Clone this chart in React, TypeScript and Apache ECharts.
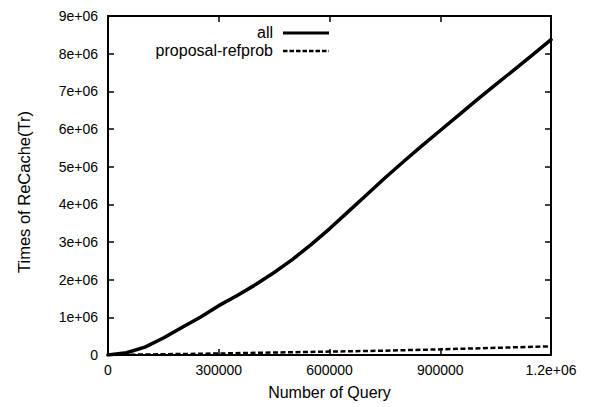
import React, { useEffect, useRef } from "react";
import * as echarts from "echarts";

const queryK = [0, 50, 100, 150, 200, 250, 300, 350, 400, 450, 500, 550, 600, 650, 700, 750, 800, 850, 900, 950, 1000, 1050, 1100, 1150, 1200];
const allM = [0, 0.06, 0.21, 0.45, 0.73, 1.0, 1.31, 1.58, 1.87, 2.19, 2.54, 2.93, 3.35, 3.8, 4.25, 4.7, 5.13, 5.55, 5.96, 6.37, 6.78, 7.18, 7.57, 7.97, 8.37];
const propK = [0, 150, 300, 450, 600, 750, 900, 1050, 1200];
const propM = [0, 0.02, 0.04, 0.065, 0.09, 0.115, 0.15, 0.19, 0.23];
const seriesNames = ["all", "proposal-refprob"];
const xTitle = "Number of Query";
const yTitle = "Times of ReCache(Tr)";

const FONT = "Liberation Sans, Arial, sans-serif";

const fmtY = (v: number) => (v === 0 ? "0" : `${v / 1e6}e+06`);
const fmtX = (v: number) => (v >= 1e6 ? `${v / 1e6}e+06` : `${v}`);

export default function App() {
  const ref = useRef<HTMLDivElement>(null);
  useEffect(() => {
    const chart = echarts.init(ref.current!, null, { renderer: "svg" });
    const axisCommon = {
      axisLine: { show: true, onZero: false, lineStyle: { color: "#000", width: 2 } },
      axisTick: { show: true, inside: true, length: 6, lineStyle: { color: "#000", width: 1.5 } },
      splitLine: { show: false },
    };
    const legendY = [33, 51];
    chart.setOption({
      animation: false,
      backgroundColor: "#fff",
      grid: { left: 108, right: 44, top: 16, bottom: 52 },
      graphic: [
        ...seriesNames.map((n, i) => ({
          type: "text",
          right: 322,
          top: legendY[i] - 9,
          style: { text: n, fontFamily: FONT, fontSize: 16, fill: "#000" },
        })),
        {
          type: "line",
          shape: { x1: 283, y1: legendY[0], x2: 329, y2: legendY[0] },
          style: { stroke: "#000", lineWidth: 3 },
        },
        {
          type: "line",
          shape: { x1: 283, y1: legendY[1], x2: 329, y2: legendY[1] },
          style: { stroke: "#000", lineWidth: 2.5, lineDash: [4.5, 2] },
        },
        {
          type: "text",
          x: 24,
          y: 192,
          rotation: Math.PI / 2,
          style: { text: yTitle, fontFamily: FONT, fontSize: 16.5, fill: "#000", align: "center", verticalAlign: "middle" },
        },
      ],
      xAxis: [
        {
          type: "value",
          min: 0,
          max: 1200000,
          interval: 300000,
          name: xTitle,
          nameLocation: "middle",
          nameGap: 29,
          nameTextStyle: { fontFamily: FONT, fontSize: 16, color: "#000" },
          axisLabel: { formatter: fmtX, fontFamily: FONT, fontSize: 14, color: "#000", margin: 8 },
          ...axisCommon,
        },
        {
          type: "value",
          position: "top",
          min: 0,
          max: 1200000,
          interval: 300000,
          axisLabel: { show: false },
          ...axisCommon,
        },
      ],
      yAxis: [
        {
          type: "value",
          min: 0,
          max: 9000000,
          interval: 1000000,
          axisLabel: { formatter: fmtY, fontFamily: FONT, fontSize: 14, color: "#000", margin: 10 },
          ...axisCommon,
        },
        {
          type: "value",
          position: "right",
          min: 0,
          max: 9000000,
          interval: 1000000,
          axisLabel: { show: false },
          ...axisCommon,
        },
      ],
      series: [
        {
          name: seriesNames[0],
          type: "line",
          showSymbol: false,
          symbol: "none",
          smooth: false,
          lineStyle: { color: "#000", width: 3.5, type: "solid", join: "round", cap: "round" },
          itemStyle: { color: "#000" },
          data: queryK.map((x, i) => [x * 1000, allM[i] * 1e6]),
        },
        {
          name: seriesNames[1],
          type: "line",
          showSymbol: false,
          symbol: "none",
          lineStyle: { color: "#000", width: 2.5, type: [5, 2.5] },
          itemStyle: { color: "#000" },
          data: propK.map((x, i) => [x * 1000, propM[i] * 1e6]),
        },
      ],
    });
    return () => chart.dispose();
  }, []);
  return <div ref={ref} style={{ position: "fixed", left: 0, top: 0, width: 595, height: 407 }} />;
}
